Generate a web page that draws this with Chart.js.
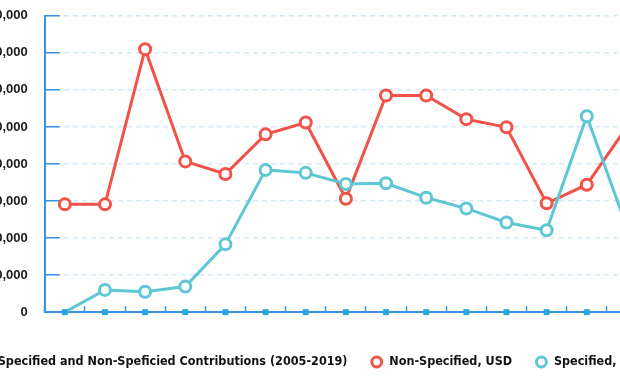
<!DOCTYPE html>
<html>
<head>
<meta charset="utf-8">
<script src="https://cdn.jsdelivr.net/npm/chart.js@4/dist/chart.umd.min.js"></script>
<style>
  html, body { margin: 0; padding: 0; background: #fff; overflow: hidden; }
  body { width: 620px; height: 380px; position: relative; }
  /* the original picture is a crop of a wider chart: left labels and the last year are cut */
  #wrap { position: absolute; left: -44px; top: -24px; width: 731px; height: 404px; }
</style>
</head>
<body>
<div id="wrap"><canvas id="chart"></canvas></div>
<script>
// --- data (USD) ---
const years = ['2005', '2006', '2007', '2008', '2009', '2010', '2011', '2012',
  '2013', '2014', '2015', '2016', '2017', '2018', '2019']
const nonSpecified = [29100, 29100, 71000, 40700, 37300, 48000, 51200, 30600,
  58500, 58500, 52100, 49900, 29400, 34400, 50000]
const specified = [0, 6000, 5500, 6900, 18300, 38400, 37600, 34600,
  34800, 30900, 28000, 24200, 22100, 52900, 22900]
const baseline = [0, 0, 0, 0, 0, 0, 0, 0, 0, 0, 0, 0, 0, 0, 0]

const Y_MIN = 0
const Y_MAX = 80000
const Y_STEP = 10000

const seriesNames = [
  'Specified and Non-Speficied Contributions (2005-2019)',
  'Non-Specified, USD',
  'Specified, USD'
]

const RED = '#f1524a'
const TEAL = '#5ec7d3'
const AXIS = '#3b92e0'
const SQUARE = '#27a6e0'
const GRID = '#d6e9f7'

const legendFont = { family: "'DejaVu Sans Condensed', 'Liberation Sans Narrow', sans-serif", size: 12.5, weight: 'bold' }

new Chart(document.getElementById('chart'), {
  type: 'line',
  data: {
    labels: years,
    datasets: [
      {
        label: seriesNames[0],
        data: baseline,
        showLine: false,
        pointStyle: 'rect',
        pointRadius: 4.2,
        pointHoverRadius: 4.2,
        pointBackgroundColor: SQUARE,
        pointBorderColor: SQUARE,
        pointBorderWidth: 0,
        backgroundColor: SQUARE,
        borderColor: SQUARE,
        order: 0
      },
      {
        label: seriesNames[1],
        data: nonSpecified,
        borderColor: RED,
        borderWidth: 3,
        tension: 0,
        pointStyle: 'circle',
        pointRadius: 5.5,
        pointBackgroundColor: '#ffffff',
        pointBorderColor: RED,
        pointBorderWidth: 3,
        backgroundColor: '#ffffff',
        order: 2
      },
      {
        label: seriesNames[2],
        data: specified,
        borderColor: TEAL,
        borderWidth: 3,
        tension: 0,
        pointStyle: 'circle',
        pointRadius: [0, 5.5, 5.5, 5.5, 5.5, 5.5, 5.5, 5.5, 5.5, 5.5, 5.5, 5.5, 5.5, 5.5, 5.5],
        pointBackgroundColor: '#ffffff',
        pointBorderColor: TEAL,
        pointBorderWidth: 3,
        backgroundColor: '#ffffff',
        order: 1
      }
    ]
  },
  options: {
    responsive: true,
    maintainAspectRatio: false,
    animation: false,
    events: [],
    clip: false,
    layout: { padding: { top: 0, right: 0, bottom: 1.75, left: 0 } },
    plugins: {
      title: { display: false },
      tooltip: { enabled: false },
      legend: {
        position: 'bottom',
        align: 'start',
        labels: {
          usePointStyle: true,
          boxHeight: 7,
          padding: 23,
          color: '#111',
          font: legendFont,
          // keep dataset order in the legend (drawing order differs)
          sort: (a, b) => a.datasetIndex - b.datasetIndex
        }
      }
    },
    scales: {
      x: {
        offset: true,
        grid: {
          offset: true,
          drawOnChartArea: false,
          drawTicks: true,
          tickLength: -6,
          tickColor: AXIS,
          tickWidth: 1.5
        },
        border: { color: AXIS, width: 2 },
        ticks: { display: true, padding: 5.5, callback: () => '', font: { size: 13 } }
      },
      y: {
        min: Y_MIN,
        max: Y_MAX,
        grid: {
          color: GRID,
          lineWidth: 1.5,
          drawTicks: true,
          tickLength: -15,
          tickColor: AXIS,
          tickWidth: 1.5,
          tickBorderDash: []
        },
        border: { color: AXIS, width: 2, dash: [5, 4] },
        ticks: {
          stepSize: Y_STEP,
          padding: 32,
          color: '#1a1a1a',
          font: { family: "'Liberation Sans', Arial, sans-serif", size: 13, weight: 'bold' }
        }
      },
      // empty spacer on the right: the plot runs past the picture's right edge
      spacer: {
        type: 'linear',
        position: 'right',
        display: true,
        grid: { display: false, drawTicks: true, tickLength: 40 },
        ticks: { display: false },
        border: { display: false }
      }
    }
  }
})
</script>
</body>
</html>
